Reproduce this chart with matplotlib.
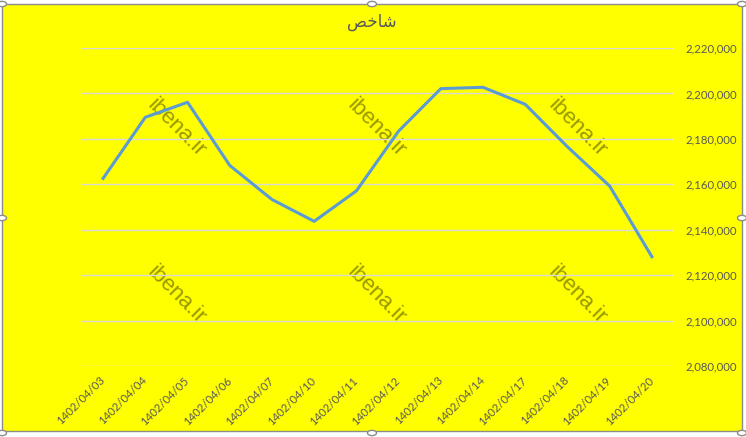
import matplotlib.pyplot as plt
from matplotlib.patches import Rectangle, Circle

# data
dates = ['1402/04/03', '1402/04/04', '1402/04/05', '1402/04/06', '1402/04/07',
         '1402/04/10', '1402/04/11', '1402/04/12', '1402/04/13', '1402/04/14',
         '1402/04/17', '1402/04/18', '1402/04/19', '1402/04/20']
index_vals = [2162600, 2189500, 2196100, 2168300, 2153300, 2143700, 2157100,
              2183400, 2202100, 2202700, 2195200, 2176500, 2159200, 2128100]
yticks = [2080000, 2100000, 2120000, 2140000, 2160000, 2180000, 2200000, 2220000]
# title "شاخص" in Arabic presentation forms (matplotlib does no shaping)
title = '\uFEBA\uFEA7\uFE8E\uFEB7'
watermark = 'ibena.ir'

yellow = '#FFFF00'
txt = '#595959'

fig = plt.figure(figsize=(7.46, 4.37), dpi=100, facecolor='white')
fig.patches.append(Rectangle((2 / 746, 6 / 437), 740 / 746, 427 / 437,
                             transform=fig.transFigure, facecolor=yellow,
                             edgecolor='#8c8c8c', lw=1, zorder=-10))

ax = fig.add_axes([82 / 746, 1 - 366 / 437, 591 / 746, 318 / 437])
ax.set_facecolor('none')
x = range(len(dates))
ax.plot(x, index_vals, color='#5B9BD5', lw=2.2, solid_joinstyle='round', zorder=3)

ax.set_xlim(-0.5, len(dates) - 0.5)
ax.set_ylim(2080000, 2220000)
ax.set_yticks(yticks)
ax.set_yticklabels([f'{v:,}' for v in yticks], fontsize=8.2, color=txt, family='Lato')
ax.yaxis.tick_right()
ax.tick_params(axis='y', length=0, pad=9)
ax.grid(axis='y', color='#D9D9D9', lw=1)
ax.set_xticks(list(x))
ax.set_xticklabels(dates, rotation=45, ha='right', va='center',
                   rotation_mode='anchor', fontsize=8.2, color=txt, family='Lato')
ax.tick_params(axis='x', length=0, pad=9)
for s in ax.spines.values():
    s.set_visible(False)

fig.text(372 / 746, 1 - 22 / 437, title, ha='center', va='center',
         fontsize=12, color=txt, family='DejaVu Sans')

# watermarks sit under the line
for cx in [176, 376, 577]:
    for cy in [128, 295]:
        ax.text(cx / 746, 1 - cy / 437, watermark, transform=fig.transFigure,
                ha='center', va='center', rotation=-45, rotation_mode='anchor',
                fontsize=16, color='#999900', family='Liberation Sans', zorder=1)

# selection handles
for hx, hy in [(2, 4), (372, 4), (742, 4), (2, 218), (742, 218), (2, 433), (372, 433), (742, 433)]:
    fig.patches.append(Circle((hx / 746, 1 - hy / 437), 4.5 / 746,
                              transform=fig.transFigure, facecolor='white',
                              edgecolor='#8c8c8c', lw=1, zorder=6))

fig.savefig('out.png', dpi=100)
